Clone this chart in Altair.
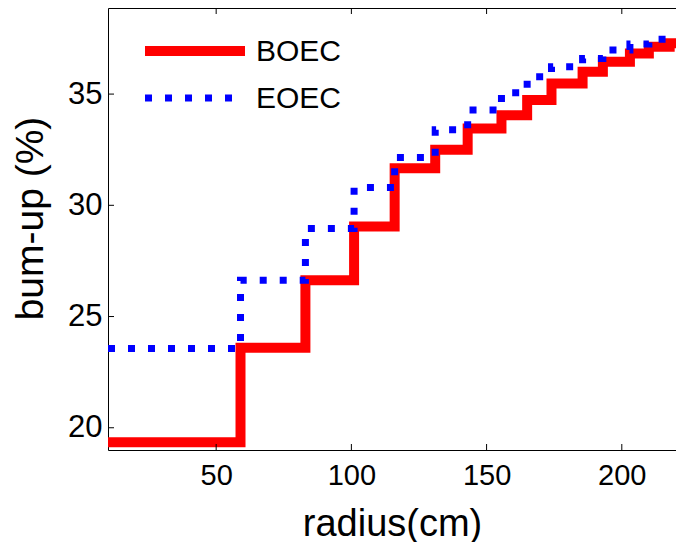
import altair as alt
import pandas as pd

# ---- data ----
radius_steps = [10, 59, 83, 101, 116, 131, 143, 155.5, 165, 174, 185.5, 193, 203, 210, 217.7, 223]
boec = [19.35, 23.6, 26.63, 29.05, 31.67, 32.5, 33.45, 34.05, 34.73, 35.48, 36.0, 36.45, 36.83, 37.13, 37.28, 37.28]
eoec = [23.56, 26.63, 28.96, 30.8, 32.15, 33.4, 34.28, 35.06, 35.78, 36.23, 36.6, 36.98, 37.25, 37.47, 37.55, 37.55]
series_names = ["BOEC", "EOEC"]
series_colors = ["#ff0000", "#0000ff"]
x_ticks = [50, 100, 150, 200]
y_ticks = [20, 25, 30, 35]
x_domain = [10, 223]
y_domain = [19, 38.87]

W, H = 576, 442
FONT = "Liberation Sans"

rows = []
for name, vals in zip(series_names, [boec, eoec]):
    for r, v in zip(radius_steps, vals):
        rows.append({"radius": r, "burnup": v, "series": name})
df = pd.DataFrame(rows)

xs = alt.Scale(domain=x_domain, nice=False, zero=False)
ys = alt.Scale(domain=y_domain, nice=False, zero=False)
cs = alt.Scale(domain=series_names, range=series_colors)
ds = alt.Scale(domain=series_names, range=[[1, 0], [7, 13]])
ws = alt.Scale(domain=series_names, range=[10, 7])

lines = alt.Chart(df).mark_line(interpolate="step-after", strokeCap="butt", strokeJoin="miter", clip=True).encode(
    x=alt.X("radius:Q", scale=xs,
            axis=alt.Axis(values=x_ticks, title="radius(cm)", titleX=W / 2 - 4, titleY=85,
                          titleBaseline="alphabetic", titleFontSize=38, labelPadding=11,
                          labelFontSize=29)),
    y=alt.Y("burnup:Q", scale=ys,
            axis=alt.Axis(values=y_ticks, title="bum-up (%)", titleAngle=-90, titleX=-66, titleY=210,
                          titleBaseline="alphabetic", titleFontSize=39, labelPadding=6,
                          labelFontSize=31)),
    color=alt.Color("series:N", scale=cs, legend=None),
    strokeDash=alt.StrokeDash("series:N", scale=ds, legend=None),
    strokeWidth=alt.StrokeWidth("series:N", scale=ws, legend=None),
    detail="series:N",
)

xt = pd.DataFrame({"radius": x_ticks})
yt = pd.DataFrame({"burnup": y_ticks})
tick_bottom = alt.Chart(xt).mark_rule(color="black", strokeWidth=1).encode(
    x=alt.X("radius:Q", scale=xs), y=alt.value(H), y2=alt.value(H - 6))
tick_top = alt.Chart(xt).mark_rule(color="black", strokeWidth=1).encode(
    x=alt.X("radius:Q", scale=xs), y=alt.value(0), y2=alt.value(6))
tick_left = alt.Chart(yt).mark_rule(color="black", strokeWidth=1).encode(
    y=alt.Y("burnup:Q", scale=ys), x=alt.value(0), x2=alt.value(6))
tick_right = alt.Chart(yt).mark_rule(color="black", strokeWidth=1).encode(
    y=alt.Y("burnup:Q", scale=ys), x=alt.value(W), x2=alt.value(W - 6))

leg_rows = [(series_names[0], 43, 137), (series_names[1], 90, 124)]
legend_layers = []
for name, yy, x2 in leg_rows:
    ld = pd.DataFrame({"series": [name]})
    legend_layers.append(
        alt.Chart(ld).mark_rule(strokeCap="butt").encode(
            x=alt.value(37), x2=alt.value(x2), y=alt.value(yy),
            color=alt.Color("series:N", scale=cs, legend=None),
            strokeDash=alt.StrokeDash("series:N", scale=ds, legend=None),
            strokeWidth=alt.StrokeWidth("series:N", scale=ws, legend=None),
        )
    )
    legend_layers.append(
        alt.Chart(ld).mark_text(align="left", baseline="middle", fontSize=30, font=FONT, color="black").encode(
            x=alt.value(148), y=alt.value(yy + 1), text="series:N")
    )

chart = alt.layer(lines, tick_bottom, tick_top, tick_left, tick_right, *legend_layers).properties(
    width=W, height=H,
    background="white",
    autosize=alt.AutoSizeParams(type="none"),
    padding={"left": 100, "top": 0, "right": -8, "bottom": 92},
).configure_view(stroke="black", strokeWidth=1).configure_axis(
    grid=False, ticks=False, domain=False, labelFont=FONT, titleFont=FONT,
    labelColor="black", titleColor="black", titleFontWeight="normal",
)

chart.save("out.html", embed_options={"renderer": "svg", "actions": False})
